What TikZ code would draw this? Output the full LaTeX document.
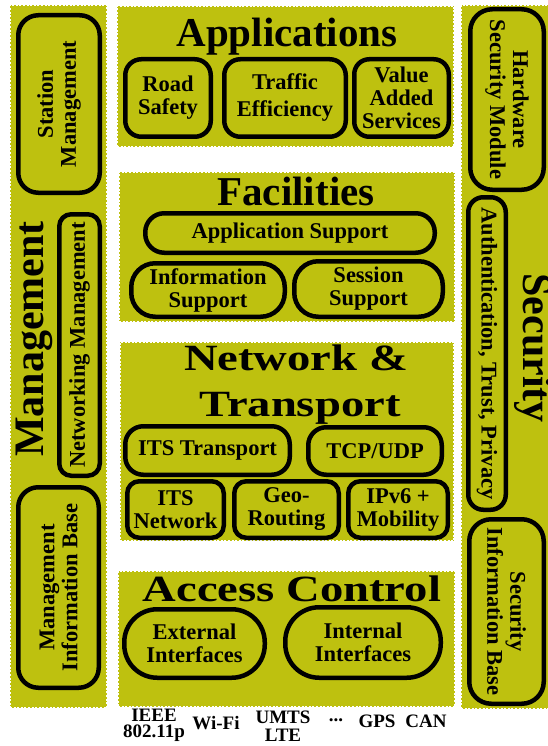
\documentclass[tikz,border=0pt]{standalone}
\usepackage{fontspec}
\setmainfont{Liberation Serif}
\definecolor{olv}{RGB}{190,193,15}
\begin{document}
\begin{tikzpicture}[x=1pt,y=-1pt,
  layer/.style={rectangle,fill=olv,draw=white,line width=1.3pt,dash pattern=on 2pt off 1.6pt,inner sep=0pt},
  blk/.style={rectangle,draw=black,line width=4.5pt,fill=olv,rounded corners=#1,align=center,inner sep=0pt,
    font=\fontsize{22.5}{23}\selectfont\bfseries},
  bigtitle/.style={inner sep=0pt,anchor=base,font=\fontsize{41}{41}\selectfont\bfseries},
  widetitle/.style={inner sep=0pt,anchor=base,xscale=1.26,font=\fontsize{37}{37}\selectfont\bfseries},
  sidetitle/.style={inner sep=0pt,anchor=base,font=\fontsize{42}{42}\selectfont\bfseries},
  phy/.style={inner sep=0pt,anchor=north,align=center,font=\fontsize{19}{16}\selectfont\bfseries}]
\useasboundingbox (0,0) rectangle (547,746);
% layers
\node[layer,minimum width=97pt,minimum height=703pt] (mgmtL) at (58.5,356.5) {};
\node[layer,minimum width=337pt,minimum height=141pt] (appsL) at (285.5,76.5) {};
\node[layer,minimum width=336pt,minimum height=150pt] (facL) at (287,247) {};
\node[layer,minimum width=334pt,minimum height=199pt] (netL) at (287,441.5) {};
\node[layer,minimum width=337pt,minimum height=136pt] (accL) at (286.5,639) {};
\node[layer,minimum width=89pt,minimum height=704pt] (secL) at (505.5,357) {};
% titles
\node[bigtitle] (appsT) at (287,47) {Applications};
\node[bigtitle] (facT) at (296,205) {Facilities};
\node[widetitle] (netT1) at (296,370) {Network \&};
\node[widetitle] (netT2) at (300,416) {Transport};
\node[widetitle] (accT) at (292,601) {Access Control};
\node[sidetitle,rotate=90] (mgmtT) at (43,339) {Management};
\node[sidetitle,rotate=-90] (secT) at (523,348) {Security};
% management
\node[blk=20pt,rotate=90,minimum width=177.5pt,minimum height=81.5pt] (stm) at (59,104) {Station\\Management};
\node[blk=12pt,rotate=90,minimum width=261.5pt,minimum height=40.5pt] (nwm) at (79.5,345) {Networking Management};
\node[blk=20pt,rotate=90,minimum width=200.5pt,minimum height=80.5pt] (mib) at (58.5,587.5) {Management\\Information Base};
% applications
\node[blk=16pt,minimum width=85.5pt,minimum height=77.5pt] (road) at (168,98) {Road\\Safety};
\node[blk=16pt,minimum width=121.5pt,minimum height=77.5pt] (traffic) at (285,98) {Traffic\\[4pt]Efficiency};
\node[blk=15pt,minimum width=94.5pt,minimum height=77.5pt] (value) at (401.5,98) {Value\\Added\\Services};
% facilities
\node[blk=19pt,minimum width=289.5pt,minimum height=39.5pt] (appsup) at (290,233) {Application Support};
\node[blk=24pt,minimum width=153.5pt,minimum height=53.5pt] (infosup) at (208,290) {Information\\Support};
\node[blk=24pt,minimum width=148.5pt,minimum height=55.5pt] (sesssup) at (368.5,289) {Session\\Support};
% network & transport
\node[blk=18pt,minimum width=164.5pt,minimum height=48.5pt] (itst) at (207.5,450.5) {ITS Transport};
\node[blk=18pt,minimum width=133.5pt,minimum height=47.5pt] (tcp) at (375,451) {TCP/UDP};
\node[blk=12pt,minimum width=96.5pt,minimum height=56.5pt] (itsn) at (175.5,509.5) {ITS\\Network};
\node[blk=12pt,minimum width=104.5pt,minimum height=56.5pt] (geo) at (286.5,509.5) {Geo-\\Routing};
\node[blk=12pt,minimum width=99.5pt,minimum height=56.5pt] (ipv6) at (398,509.5) {IPv6 +\\Mobility};
% access control
\node[blk=33pt,minimum width=140.5pt,minimum height=68.5pt] (ext) at (194.5,643.5) {External\\Interfaces};
\node[blk=34pt,minimum width=155.5pt,minimum height=70.5pt] (int) at (363,642.5) {Internal\\Interfaces};
% security
\node[blk=22pt,rotate=-90,minimum width=180.5pt,minimum height=73.5pt] (hsm) at (507,99.5) {Hardware\\Security Module};
\node[blk=15pt,rotate=-90,minimum width=312.5pt,minimum height=37.5pt] (auth) at (487,353.5) {Authentication, Trust, Privacy};
\node[blk=22pt,rotate=-90,minimum width=184.5pt,minimum height=74.5pt] (sib) at (506.5,611.5) {Security\\Information Base};
% physical interfaces
\node[phy] (ieee) at (154,709) {IEEE\\802.11p};
\node[phy] (wifi) at (216,716) {Wi-Fi};
\node[phy,font=\fontsize{19}{18}\selectfont\bfseries] (umts) at (283,711) {UMTS\\LTE};
\node[phy,anchor=base] (dots) at (336,721) {...};
\node[phy] (gps) at (377,715) {GPS};
\node[phy] (can) at (426,715) {CAN};
\end{tikzpicture}
\end{document}
